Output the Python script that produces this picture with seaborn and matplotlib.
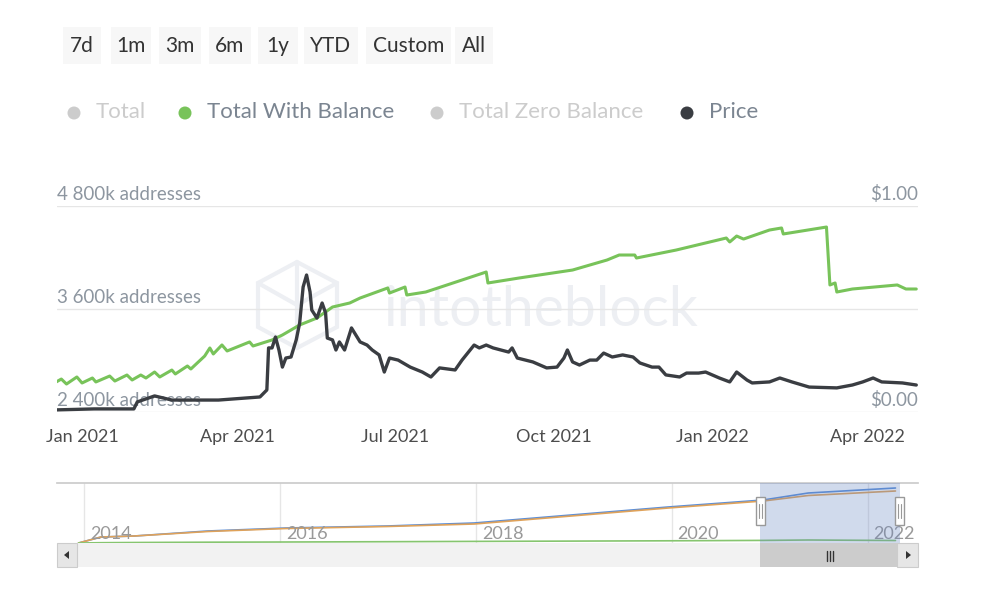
import numpy as np
import pandas as pd
import matplotlib
matplotlib.use('Agg')
import matplotlib.pyplot as plt
import matplotlib.dates as mdates
from matplotlib.patches import Rectangle, Circle, Polygon
import seaborn as sns

# Total With Balance, thousands of addresses
balance_dates = ['2020-12-16', '2020-12-20', '2020-12-23', '2020-12-29', '2021-01-01', '2021-01-07',
                 '2021-01-09', '2021-01-17', '2021-01-20', '2021-01-27', '2021-01-30', '2021-02-04',
                 '2021-02-07', '2021-02-12', '2021-02-15', '2021-02-22', '2021-02-24', '2021-03-03',
                 '2021-03-05', '2021-03-13', '2021-03-16', '2021-03-18', '2021-03-23', '2021-03-26',
                 '2021-04-08', '2021-04-10', '2021-04-21', '2021-04-27', '2021-05-07', '2021-05-17',
                 '2021-05-26', '2021-06-05', '2021-06-11', '2021-06-27', '2021-06-28', '2021-07-07',
                 '2021-07-08', '2021-07-19', '2021-08-23', '2021-08-24', '2021-09-11', '2021-10-12',
                 '2021-11-01', '2021-11-08', '2021-11-17', '2021-11-18', '2021-12-11', '2022-01-09',
                 '2022-01-11', '2022-01-15', '2022-01-19', '2022-02-03', '2022-02-10', '2022-02-11',
                 '2022-03-08', '2022-03-10', '2022-03-13', '2022-03-14', '2022-03-23', '2022-04-18',
                 '2022-04-23', '2022-04-29']
balance_values = [2738, 2784, 2726, 2808, 2738, 2796,
                  2750, 2819, 2761, 2831, 2773, 2831,
                  2796, 2866, 2808, 2889, 2843, 2936,
                  2901, 3052, 3146, 3076, 3181, 3111,
                  3216, 3169, 3239, 3297, 3414, 3495,
                  3623, 3670, 3728, 3845, 3786, 3856,
                  3763, 3798, 4031, 3903, 3961, 4054,
                  4171, 4229, 4229, 4194, 4287, 4427,
                  4381, 4450, 4415, 4520, 4544, 4474,
                  4555, 3880, 3903, 3798, 3833, 3880,
                  3833, 3833]

# Price in USD
price_dates = ['2020-12-16', '2021-01-08', '2021-01-31', '2021-02-02', '2021-02-12', '2021-02-22',
               '2021-03-13', '2021-03-21', '2021-04-14', '2021-04-18', '2021-04-19', '2021-04-21',
               '2021-04-23', '2021-04-25', '2021-04-27', '2021-04-29', '2021-05-02', '2021-05-05',
               '2021-05-07', '2021-05-09', '2021-05-11', '2021-05-13', '2021-05-14', '2021-05-17',
               '2021-05-20', '2021-05-22', '2021-05-23', '2021-05-26', '2021-05-28', '2021-05-30',
               '2021-06-02', '2021-06-06', '2021-06-11', '2021-06-15', '2021-06-18', '2021-06-22',
               '2021-06-25', '2021-06-28', '2021-07-03', '2021-07-10', '2021-07-17', '2021-07-22',
               '2021-07-27', '2021-08-05', '2021-08-09', '2021-08-16', '2021-08-19', '2021-08-23',
               '2021-08-27', '2021-09-05', '2021-09-07', '2021-09-10', '2021-09-19', '2021-09-27',
               '2021-10-03', '2021-10-07', '2021-10-09', '2021-10-12', '2021-10-16', '2021-10-22',
               '2021-10-26', '2021-10-30', '2021-11-04', '2021-11-10', '2021-11-16', '2021-11-20',
               '2021-11-27', '2021-12-01', '2021-12-05', '2021-12-13', '2021-12-17', '2021-12-24',
               '2021-12-28', '2022-01-05', '2022-01-11', '2022-01-15', '2022-01-21', '2022-01-24',
               '2022-02-03', '2022-02-09', '2022-02-16', '2022-02-26', '2022-03-14', '2022-03-23',
               '2022-03-29', '2022-04-04', '2022-04-09', '2022-04-21', '2022-04-29']
price_values = [0.010, 0.015, 0.015, 0.049, 0.078, 0.058,
                0.058, 0.058, 0.073, 0.107, 0.311, 0.311,
                0.364, 0.301, 0.218, 0.262, 0.267, 0.350,
                0.432, 0.607, 0.665, 0.583, 0.495, 0.456,
                0.529, 0.481, 0.359, 0.350, 0.301, 0.340,
                0.301, 0.408, 0.340, 0.325, 0.301, 0.277,
                0.194, 0.262, 0.252, 0.218, 0.194, 0.170,
                0.214, 0.204, 0.252, 0.325, 0.311, 0.325,
                0.311, 0.291, 0.311, 0.262, 0.243, 0.214,
                0.218, 0.262, 0.301, 0.243, 0.228, 0.252,
                0.252, 0.286, 0.267, 0.277, 0.267, 0.238,
                0.218, 0.218, 0.180, 0.170, 0.189, 0.189,
                0.194, 0.165, 0.146, 0.194, 0.155, 0.141,
                0.146, 0.165, 0.146, 0.121, 0.117, 0.131,
                0.146, 0.165, 0.146, 0.141, 0.131]

# navigator series (decimal years, relative scale)
nav_years = [2013.94, 2014.17, 2014.51, 2015.26, 2016.06, 2017.09, 2017.98, 2019.96, 2020.93, 2021.39, 2022.28]
nav_total = [0, 6, 7, 12, 15, 17, 20, 36, 43, 50, 55]
nav_zero = [0, 6, 7, 11.5, 14.5, 16.5, 19, 35, 42, 47.5, 52]
nav_balance = [0, 0.3, 0.5, 0.8, 1.0, 1.3, 1.6, 2.2, 2.6, 3.0, 2.5]
nav_year_ticks = [2014, 2016, 2018, 2020, 2022]

addr_ticks = [2400, 3600, 4800]
addr_labels = ['2 400k addresses', '3 600k addresses', '4 800k addresses']
price_ticks = [0.0, 1.0]
price_labels = ['$0.00', '$1.00']
buttons = ['7d', '1m', '3m', '6m', '1y', 'YTD', 'Custom', 'All']
legend_names = ['Total', 'Total With Balance', 'Total Zero Balance', 'Price']
view_start, view_end = '2020-12-17 12:00', '2022-04-30'

GREEN = '#78c35a'
DARK = '#3a3d42'
GREY_TXT = '#8d96a0'
FAINT = '#cccccc'

sns.set_theme(style='white')
plt.rcParams['font.family'] = ['Lato', 'DejaVu Sans']

W, H = 982, 613
fig = plt.figure(figsize=(W / 100, H / 100), dpi=100)


def box(x0, y0, x1, y1):
    # pixel box (top-left origin) -> figure fraction rect
    return [x0 / W, 1 - y1 / H, (x1 - x0) / W, (y1 - y0) / H]


# background overlay for buttons, legend, watermark icon
bg = fig.add_axes([0, 0, 1, 1], zorder=-1)
bg.set_xlim(0, W)
bg.set_ylim(H, 0)
bg.axis('off')

btn_x = [(63, 101), (111, 151), (159, 201), (209, 251), (258, 298), (304, 358), (366, 451), (455, 493)]
for name, (x0, x1) in zip(buttons, btn_x):
    bg.add_patch(Rectangle((x0, 27), x1 - x0, 37, fc='#f7f7f7', ec='none'))
    bg.text((x0 + x1) / 2, 46, name, ha='center', va='center', fontsize=15, color='#333333')

leg_x = [74, 185, 437, 687]
leg_dot = [FAINT, GREEN, FAINT, DARK]
leg_txt = [FAINT, '#7b8591', FAINT, '#7b8591']
for name, x, dc, tc in zip(legend_names, leg_x, leg_dot, leg_txt):
    bg.add_patch(Circle((x, 113), 6.5, fc=dc, ec='none'))
    bg.text(x + 22, 112, name, ha='left', va='center', fontsize=16, color=tc)

# watermark
wm = '#edeff3'
hexagon = [(297, 262), (337, 283), (337, 327), (297, 348), (258, 327), (258, 283)]
bg.add_patch(Polygon(hexagon, closed=True, fill=False, ec=wm, lw=3))
bg.plot([258, 297, 337], [283, 305, 283], color=wm, lw=3)
bg.plot([297, 297], [262, 348], color=wm, lw=3)
bg.text(541, 310, 'intotheblock', ha='center', va='center', fontsize=41, color=wm)

# main chart
ax = fig.add_axes(box(57, 206, 918, 412))
ax.set_facecolor('none')
ax2 = ax.twinx()

df_bal = pd.DataFrame({'date': pd.to_datetime(balance_dates), 'value': balance_values})
df_price = pd.DataFrame({'date': pd.to_datetime(price_dates), 'price': price_values})

sns.lineplot(data=df_bal, x='date', y='value', ax=ax, color=GREEN, linewidth=2.2, estimator=None)
sns.lineplot(data=df_price, x='date', y='price', ax=ax2, color=DARK, linewidth=2.4, estimator=None)

ax.set_xlim(pd.Timestamp(view_start), pd.Timestamp(view_end))
ax.set_ylim(addr_ticks[0], addr_ticks[-1])
ax2.set_ylim(price_ticks[0], price_ticks[-1])
ax.set_yticks(addr_ticks)
ax2.set_yticks(price_ticks)
ax.yaxis.grid(True, color='#e6e6e6', linewidth=1)
ax.tick_params(axis='y', left=False, labelleft=False)
ax2.tick_params(axis='y', right=False, labelright=False)
ax.set_xlabel('')
ax.set_ylabel('')
ax2.set_ylabel('')
for a in (ax, ax2):
    for s in a.spines.values():
        s.set_visible(False)

ax.xaxis.set_major_locator(mdates.MonthLocator(bymonth=[1, 4, 7, 10]))
ax.xaxis.set_major_formatter(mdates.DateFormatter('%b %Y'))
ax.tick_params(axis='x', length=0, pad=12, labelsize=13, labelcolor='#4d4d4d')

for v, lab in zip(addr_ticks, addr_labels):
    ax.annotate(lab, (0, v), xycoords=ax.get_yaxis_transform(), xytext=(0, 2),
                textcoords='offset points', ha='left', va='bottom', fontsize=13.5, color=GREY_TXT)
for v, lab in zip(price_ticks, price_labels):
    ax2.annotate(lab, (1, v), xycoords=ax2.get_yaxis_transform(), xytext=(0, 2),
                 textcoords='offset points', ha='right', va='bottom', fontsize=13.5, color=GREY_TXT)

# navigator
nav = fig.add_axes(box(57, 483, 918, 543))
nav.set_facecolor('none')
df_nav = pd.DataFrame({
    'year': nav_years * 3,
    'value': nav_total + nav_zero + nav_balance,
    'series': ['Total'] * len(nav_years) + ['Total Zero Balance'] * len(nav_years)
              + ['Total With Balance'] * len(nav_years),
})
sns.lineplot(data=df_nav, x='year', y='value', hue='series', ax=nav, estimator=None, linewidth=1.2,
             palette={'Total': '#5b8ed8', 'Total Zero Balance': '#dfa25a', 'Total With Balance': '#86c56f'},
             legend=False)
nav.set_xlim(2013.72, 2022.51)
nav.set_ylim(0, 60)
nav.set_xticks(nav_year_ticks)
nav.set_yticks([])
nav.xaxis.grid(True, color='#e6e6e6', linewidth=1)
nav.tick_params(axis='x', length=0, labelbottom=False)
nav.set_xlabel('')
nav.set_ylabel('')
for name, s in nav.spines.items():
    s.set_visible(name == 'top')
nav.spines['top'].set_color('#cccccc')
for yr in nav_year_ticks:
    nav.annotate(str(yr), (yr, 0), xycoords=nav.get_xaxis_transform(), xytext=(4, 1),
                 textcoords='offset points', ha='left', va='bottom', fontsize=13, color='#999999')


def dec_year(ts):
    ts = pd.Timestamp(ts)
    return ts.year + (ts.dayofyear - 1) / 365.0


sel0, sel1 = dec_year(view_start) - 0.06, dec_year(view_end)
nav.axvspan(sel0, sel1, color=(102 / 255, 133 / 255, 194 / 255), alpha=0.3, lw=0, zorder=3)

# foreground overlay: scrollbar and handles
fg = fig.add_axes([0, 0, 1, 1], zorder=10)
fg.set_xlim(0, W)
fg.set_ylim(H, 0)
fg.axis('off')
fg.patch.set_alpha(0)

fig.canvas.draw()
hx0 = nav.transData.transform((sel0, 0))[0]
hx1 = nav.transData.transform((sel1, 0))[0]

fg.add_patch(Rectangle((57, 543), 861, 24, fc='#f2f2f2', ec='none'))
fg.add_patch(Rectangle((hx0, 543), hx1 - hx0, 24, fc='#cccccc', ec='none'))
for xc in (hx0 + hx1) / 2 + np.array([-3, 0, 3]):
    fg.plot([xc, xc], [551, 561], color='#333333', lw=1)
fg.add_patch(Rectangle((57, 543), 20, 24, fc='#e6e6e6', ec='#cccccc', lw=0.8))
fg.add_patch(Rectangle((897, 543), 21, 24, fc='#e6e6e6', ec='#cccccc', lw=0.8))
fg.add_patch(Polygon([(64, 555), (69, 551), (69, 559)], closed=True, fc='#333333', ec='none'))
fg.add_patch(Polygon([(911, 555), (906, 551), (906, 559)], closed=True, fc='#333333', ec='none'))
for hx in (hx0, hx1):
    fg.add_patch(Rectangle((hx - 4.5, 497), 9, 28, fc='white', ec='#999999', lw=1))
    for dx in (-1.5, 1.5):
        fg.plot([hx + dx, hx + dx], [504, 518], color='#999999', lw=0.8)

fig.savefig('out.png', dpi=100)
